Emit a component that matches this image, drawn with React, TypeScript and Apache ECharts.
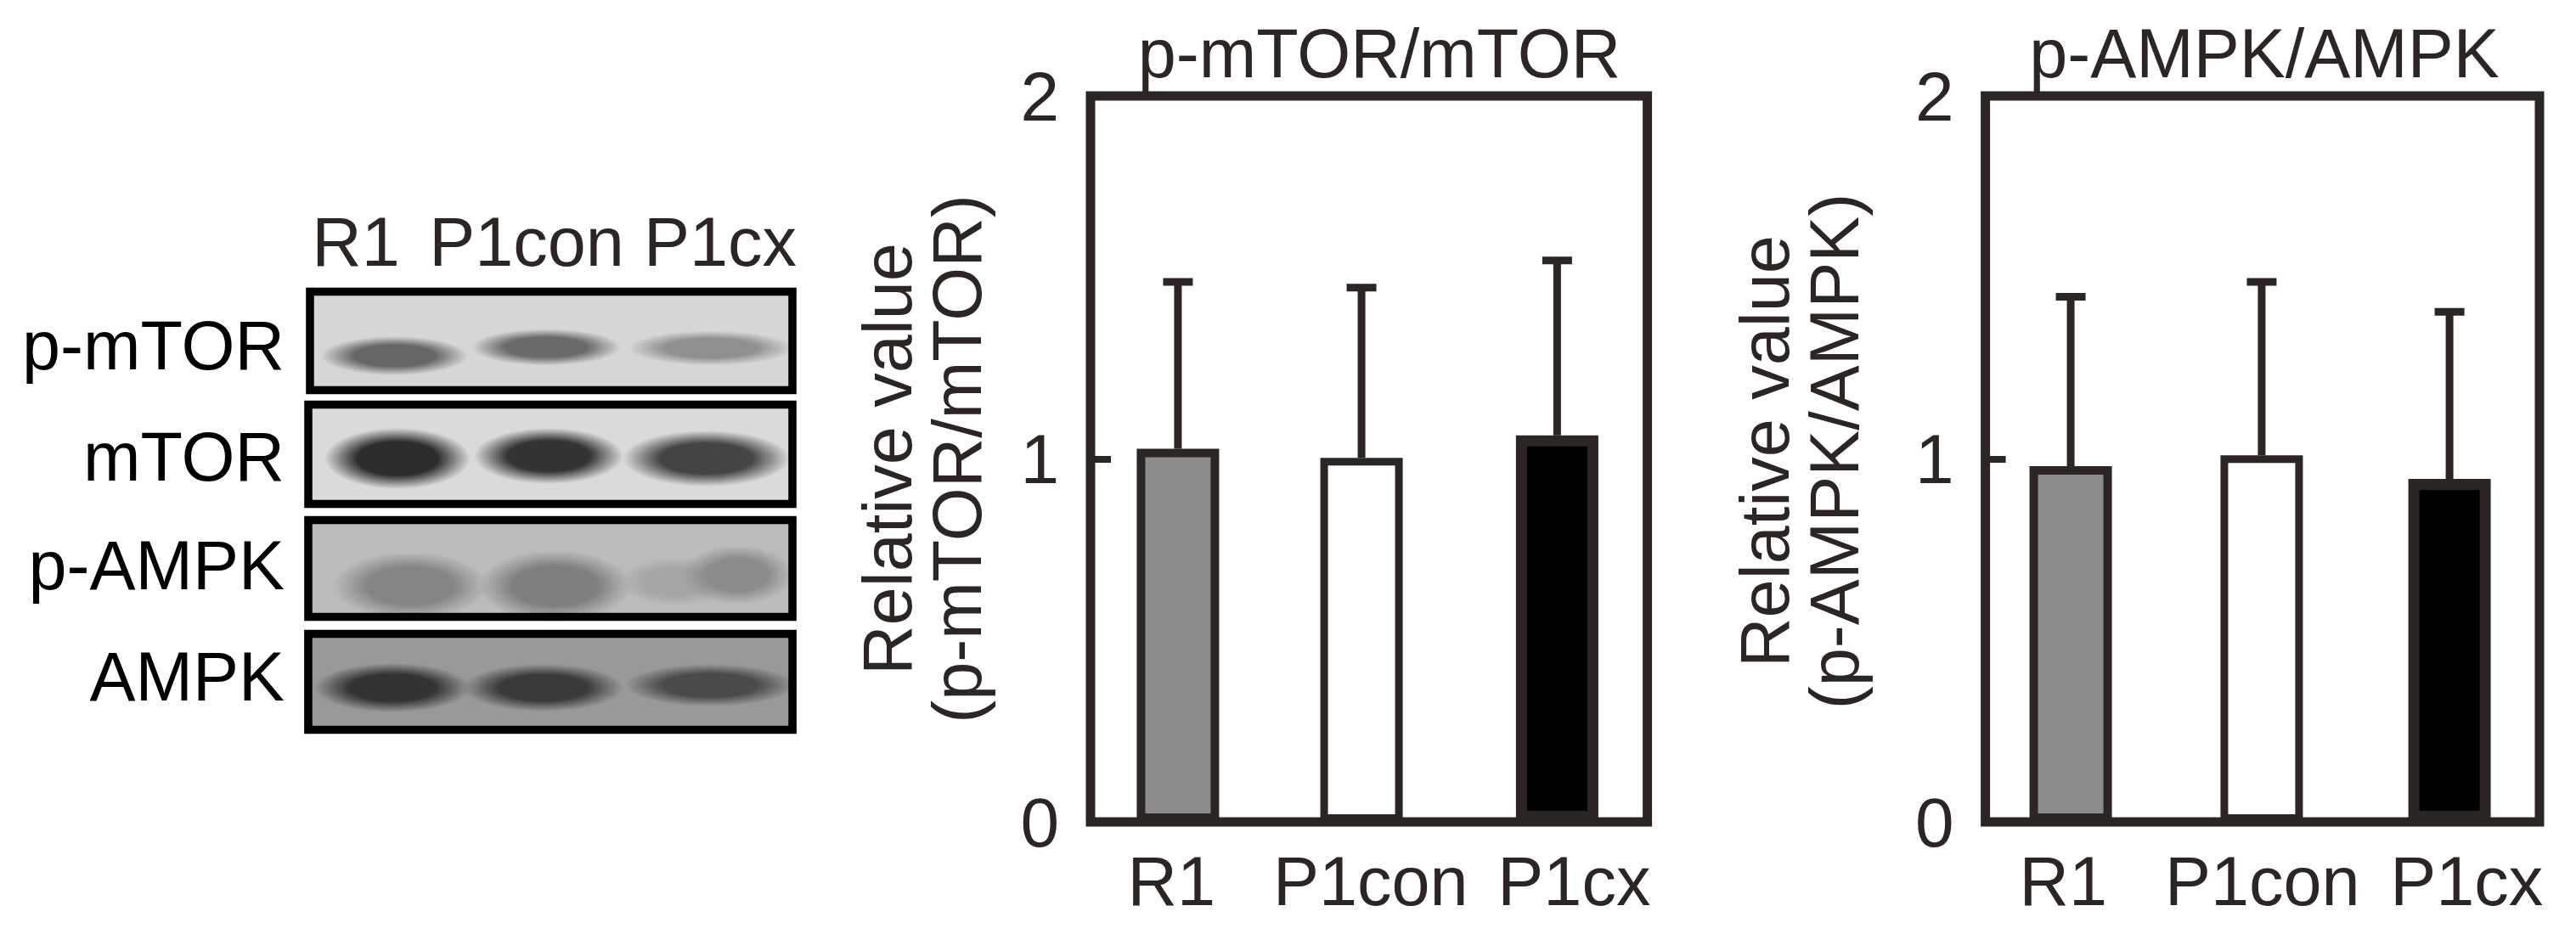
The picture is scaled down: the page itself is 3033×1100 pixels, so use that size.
import React, { useEffect, useRef } from "react";
import * as echarts from "echarts";

const categories = ["R1", "P1con", "P1cx"];
const blotProteins = ["p-mTOR", "mTOR", "p-AMPK", "AMPK"];
const yTicks = [0, 1, 2];

const mtorTitle = "p-mTOR/mTOR";
const mtorAxisName = "Relative value\n(p-mTOR/mTOR)";
const mtorMeans = [1.028, 1.003, 1.065];
const mtorUpper = [1.488, 1.472, 1.547];

const ampkTitle = "p-AMPK/AMPK";
const ampkAxisName = "Relative value\n(p-AMPK/AMPK)";
const ampkMeans = [0.98, 1.01, 0.945];
const ampkUpper = [1.447, 1.488, 1.405];

const INK = "#2b2523";
const FONT = "'Liberation Sans', Arial, sans-serif";
const barFills = ["#8c8c8c", "#ffffff", "#000000"];
const barBorders = [10, 9, 13];

const PANELS = [
  {
    left: 1284, right: 1939.6, title: mtorTitle, titleX: 1619, axisName: mtorAxisName,
    means: mtorMeans, upper: mtorUpper,
    slots: [0.471, 1.46, 2.514], labelShift: [-14, 2, 23], nameGap: 116, namePad: [0, 0, 0, 0],
  },
  {
    left: 2337.6, right: 2990, title: ampkTitle, titleX: 2661, axisName: ampkAxisName,
    means: ampkMeans, upper: ampkUpper,
    slots: [0.462, 1.496, 2.513], labelShift: [-17, 0, 23], nameGap: 137, namePad: [0, 0, 0, 18],
  },
];

const TOP = 113;
const BOTTOM = 968;

// Western-blot picture: frames and blurred bands (decoration, not data)
const blotFrames = [
  { x: 360, y: 339, w: 578, h: 125, bg: "#d6d6d6", yc: 407 },
  { x: 358, y: 472, w: 580, h: 126, bg: "#dadada", yc: 538 },
  { x: 358, y: 608, w: 580, h: 123, bg: "#bcbcbc", yc: 666 },
  { x: 358, y: 742, w: 580, h: 122, bg: "#999999", yc: 797 },
];
const blotBands = [
  [400, 529, 419, 18, "#666666"], [577, 709, 409, 15, "#6a6a6a"], [762, 912, 410, 13, "#8f8f8f"],
  [404, 532, 540, 44, "#2c2c2c"], [580, 712, 537, 38, "#333333"], [755, 908, 540, 38, "#444444"],
  [414, 552, 690, 52, "#858585"], [585, 722, 690, 56, "#7f7f7f"], [750, 840, 685, 30, "#a5a5a5"], [825, 912, 677, 42, "#8c8c8c"],
  [392, 532, 810, 30, "#333333"], [567, 712, 810, 28, "#3a3a3a"], [758, 914, 807, 22, "#4a4a4a"],
];

function barSeries(panelIdx: number) {
  const p = PANELS[panelIdx];
  const xAxisIndex = panelIdx * 2 + 1;
  return [
    {
      type: "custom",
      xAxisIndex,
      yAxisIndex: panelIdx,
      z: 3,
      encode: { x: 0, y: [1, 2] },
      data: p.slots.map((s, i) => [s, p.means[i], p.upper[i]]),
      renderItem: (_: any, api: any) => {
        const bottom = api.coord([api.value(0), api.value(1)]);
        const top = api.coord([api.value(0), api.value(2)]);
        const style = { stroke: INK, lineWidth: 9, fill: "none" };
        return {
          type: "group",
          children: [
            { type: "line", shape: { x1: top[0], y1: top[1], x2: bottom[0], y2: bottom[1] }, style },
            { type: "line", shape: { x1: top[0] - 17.5, y1: top[1], x2: top[0] + 17.5, y2: top[1] }, style },
          ],
        };
      },
    },
    {
      type: "bar",
      xAxisIndex,
      yAxisIndex: panelIdx,
      z: 4,
      barWidth: 97,
      data: p.means.map((m, i) => ({
        value: [p.slots[i], m],
        itemStyle: { color: barFills[i], borderColor: INK, borderWidth: barBorders[i] },
      })),
    },
  ];
}

function blotGraphics() {
  const out: any[] = [];
  blotFrames.forEach((f) => {
    out.push({ type: "rect", shape: { x: f.x, y: f.y, width: f.w, height: f.h }, style: { fill: f.bg } });
  });
  blotBands.forEach((b) => {
    const [x1, x2, yc, h, color] = b as [number, number, number, number, string];
    out.push({
      type: "ellipse",
      shape: { cx: (x1 + x2) / 2, cy: yc, rx: (x2 - x1) / 2 + 22, ry: h / 2 + 14 },
      style: {
        fill: new echarts.graphic.RadialGradient(0.5, 0.5, 0.5, [
          { offset: 0, color },
          { offset: 0.55, color },
          { offset: 1, color: color + "00" },
        ]),
      },
    });
  });
  blotFrames.forEach((f) => {
    out.push({
      type: "rect",
      shape: { x: f.x + 5, y: f.y + 4.5, width: f.w - 10, height: f.h - 9 },
      style: { fill: "none", stroke: "#000000", lineWidth: 9.5 },
    });
  });
  const laneX = [419, 620, 848];
  categories.forEach((c, i) => {
    out.push({
      type: "text", x: laneX[i], y: 285,
      style: { text: c, fill: INK, font: `81px ${FONT}`, align: "center", verticalAlign: "middle" },
    });
  });
  blotProteins.forEach((t, i) => {
    out.push({
      type: "text", x: 335, y: blotFrames[i].yc,
      style: { text: t, fill: "#000000", font: `81px ${FONT}`, align: "right", verticalAlign: "middle" },
    });
  });
  return out;
}

export default function App() {
  const ref = useRef<HTMLDivElement>(null);
  useEffect(() => {
    document.body.style.margin = "0";
    document.body.style.background = "#ffffff";
    const chart = echarts.init(ref.current!, undefined, { renderer: "svg" });
    chart.setOption({
      animation: false,
      backgroundColor: "#ffffff",
      textStyle: { fontFamily: FONT },
      title: PANELS.map((p) => ({
        text: p.title,
        left: p.titleX,
        top: 18,
        textAlign: "center",
        textStyle: { fontFamily: FONT, fontSize: 81, fontWeight: "normal", color: INK, lineHeight: 80 },
      })),
      grid: PANELS.map((p) => ({
        left: p.left,
        top: TOP,
        width: p.right - p.left,
        height: BOTTOM - TOP,
        show: true,
        borderColor: INK,
        borderWidth: 11,
        backgroundColor: "#ffffff",
        containLabel: false,
      })),
      xAxis: PANELS.flatMap((p, i) => [
        {
          type: "category",
          gridIndex: i,
          data: categories.map((c, k) => ({
            value: c,
            textStyle: {
              padding: p.labelShift[k] < 0 ? [0, -2 * p.labelShift[k], 0, 0] : [0, 0, 0, 2 * p.labelShift[k]],
            },
          })),
          axisLine: { show: false },
          axisTick: { show: false },
          axisLabel: { interval: 0, fontSize: 81, color: INK, fontFamily: FONT, margin: 29, hideOverlap: false },
        },
        { type: "value", gridIndex: i, min: 0, max: 3, show: false, splitLine: { show: false } },
      ]),
      yAxis: PANELS.map((p, i) => ({
        type: "value",
        gridIndex: i,
        min: yTicks[0],
        max: yTicks[yTicks.length - 1],
        interval: 1,
        name: p.axisName,
        nameLocation: "middle",
        nameRotate: 90,
        nameGap: p.nameGap,
        nameTextStyle: { fontFamily: FONT, fontSize: 81, color: INK, lineHeight: 82, padding: p.namePad },
        axisLine: { show: false },
        splitLine: { show: false },
        axisTick: { show: true, inside: true, length: 24, lineStyle: { color: INK, width: 8 } },
        axisLabel: { fontSize: 82, color: INK, fontFamily: FONT, margin: 37, padding: [0, 0, 14, 0] },
      })),
      series: PANELS.flatMap((_, i) => barSeries(i)),
      graphic: blotGraphics(),
    });
    return () => chart.dispose();
  }, []);
  return <div ref={ref} style={{ position: "absolute", left: 0, top: 0, width: 3033, height: 1100 }} />;
}
